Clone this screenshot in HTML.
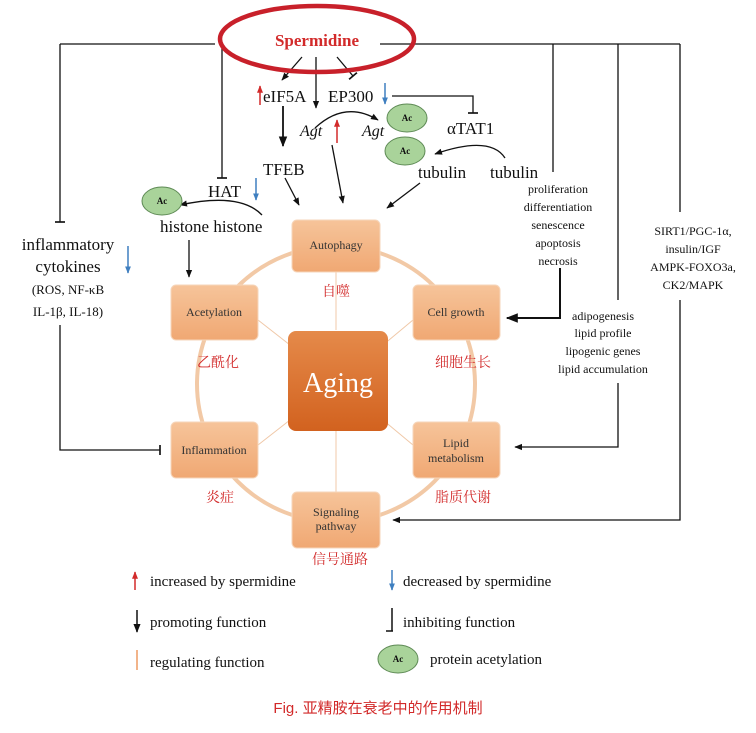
<!DOCTYPE html>
<html><head><meta charset="utf-8"><style>
body{margin:0;background:#fff;width:756px;height:728px;overflow:hidden}
svg text{font-family:"Liberation Serif","Noto Serif CJK SC",serif}
.cn{font-family:"Liberation Sans","Noto Sans CJK SC",sans-serif;fill:#d22a2a}
</style></head><body>
<svg width="756" height="728" viewBox="0 0 756 728" xmlns="http://www.w3.org/2000/svg">
<defs>
<marker id="a" viewBox="0 0 10 10" refX="9" refY="5" markerWidth="6" markerHeight="6" orient="auto"><path d="M0,1L10,5L0,9z" fill="#111"/></marker>
<marker id="t" viewBox="0 0 10 10" refX="5" refY="5" markerWidth="8" markerHeight="8" orient="auto"><path d="M5,0V10" stroke="#111" stroke-width="1.6"/></marker>
<marker id="ar" viewBox="0 0 10 10" refX="9" refY="5" markerWidth="5" markerHeight="5" orient="auto"><path d="M0,1L10,5L0,9z" fill="#d22a2a"/></marker>
<marker id="ab" viewBox="0 0 10 10" refX="9" refY="5" markerWidth="5" markerHeight="5" orient="auto"><path d="M0,1L10,5L0,9z" fill="#3f7fc0"/></marker>
<linearGradient id="g" x1="0" y1="0" x2="0" y2="1"><stop offset="0" stop-color="#f6c49a"/><stop offset="1" stop-color="#f0a873"/></linearGradient>
<linearGradient id="g2" x1="0" y1="0" x2="0" y2="1"><stop offset="0" stop-color="#e58a4a"/><stop offset="1" stop-color="#d2621f"/></linearGradient>
</defs>
<g stroke="#111" stroke-width="1.3" fill="none">
<path d="M60,44H215M380,44H680"/>
<path d="M60,44V222" marker-end="url(#t)"/>
<path d="M222,44V178" marker-end="url(#t)"/>
<path d="M553,44V172"/>
<path d="M618,44V300M618,383V447H515" marker-end="url(#a)"/>
<path d="M680,44V212M680,300V520H393" marker-end="url(#a)"/>
<path d="M560,268V318H507" marker-end="url(#a)" stroke-width="2"/>
<path d="M60,325V450H160" marker-end="url(#t)"/>
<path d="M302,57L282,80" marker-end="url(#a)"/>
<path d="M316,57V108" marker-end="url(#a)"/>
<path d="M337,57L353,76" marker-end="url(#t)"/>
<path d="M283,106V146" marker-end="url(#a)" stroke-width="1.8"/>
<path d="M392,96H473V113" marker-end="url(#t)"/>
<path d="M315,128Q345,100 378,120" marker-end="url(#a)"/>
<path d="M332,145L343,203" marker-end="url(#a)"/>
<path d="M285,178L299,205" marker-end="url(#a)"/>
<path d="M420,183L387,208" marker-end="url(#a)"/>
<path d="M505,158Q490,135 435,154" marker-end="url(#a)"/>
<path d="M262,215Q240,192 180,205" marker-end="url(#a)"/>
<path d="M189,240V277" marker-end="url(#a)"/>
</g>
<line x1="260" y1="105" x2="260" y2="86" stroke="#d22a2a" stroke-width="1.5" marker-end="url(#ar)"/>
<line x1="337" y1="143" x2="337" y2="120" stroke="#d22a2a" stroke-width="1.5" marker-end="url(#ar)"/>
<line x1="385" y1="83" x2="385" y2="104" stroke="#3f7fc0" stroke-width="1.5" marker-end="url(#ab)"/>
<line x1="256" y1="178" x2="256" y2="200" stroke="#3f7fc0" stroke-width="1.5" marker-end="url(#ab)"/>
<line x1="128" y1="246" x2="128" y2="273" stroke="#3f7fc0" stroke-width="1.5" marker-end="url(#ab)"/>
<ellipse cx="317" cy="39" rx="97" ry="33" fill="none" stroke="#c8202a" stroke-width="4.5"/>
<text x="317" y="46" text-anchor="middle" font-size="17" font-weight="bold" fill="#d22a2a">Spermidine</text>
<g font-size="17" fill="#111">
<text x="263" y="102">eIF5A</text>
<text x="328" y="102">EP300</text>
<text x="300" y="136" font-style="italic" font-size="16">Agt</text>
<text x="362" y="136" font-style="italic" font-size="16">Agt</text>
<text x="447" y="134">αTAT1</text>
<text x="263" y="175">TFEB</text>
<text x="418" y="178">tubulin</text>
<text x="490" y="178">tubulin</text>
<text x="208" y="197">HAT</text>
<text x="160" y="232">histone histone</text>
<text x="68" y="250" text-anchor="middle">inflammatory</text>
<text x="68" y="272" text-anchor="middle">cytokines</text>
</g>
<g font-size="13" fill="#111" text-anchor="middle">
<text x="68" y="294">(ROS, NF-κB</text>
<text x="68" y="316">IL-1β, IL-18)</text>
<text x="558" y="193" font-size="12">proliferation</text>
<text x="558" y="211" font-size="12">differentiation</text>
<text x="558" y="229" font-size="12">senescence</text>
<text x="558" y="247" font-size="12">apoptosis</text>
<text x="558" y="265" font-size="12">necrosis</text>
<text x="603" y="320" font-size="12">adipogenesis</text>
<text x="603" y="337" font-size="12">lipid profile</text>
<text x="603" y="355" font-size="12">lipogenic genes</text>
<text x="603" y="373" font-size="12">lipid accumulation</text>
<text x="693" y="235" font-size="12">SIRT1/PGC-1α,</text>
<text x="693" y="253" font-size="12">insulin/IGF</text>
<text x="693" y="271" font-size="12">AMPK-FOXO3a,</text>
<text x="693" y="289" font-size="12">CK2/MAPK</text>
</g>
<g fill="#a9d39a" stroke="#5e8a55" stroke-width="1">
<ellipse cx="407" cy="118" rx="20" ry="14"/><ellipse cx="405" cy="151" rx="20" ry="14"/><ellipse cx="162" cy="201" rx="20" ry="14"/>
<ellipse cx="398" cy="659" rx="20" ry="14"/>
</g>
<g font-size="9" font-weight="bold" text-anchor="middle" fill="#111">
<text x="407" y="121">Ac</text><text x="405" y="154">Ac</text><text x="162" y="204">Ac</text><text x="398" y="662">Ac</text>
</g>
<ellipse cx="336" cy="384" rx="139" ry="138" fill="none" stroke="#f2c9a6" stroke-width="4"/>
<g stroke="#f0c8a8" stroke-width="1"><path d="M336,272V330M336,430V492M258,320L290,345M413,320L383,345M258,445L290,420M413,445L383,420"/></g>
<g fill="url(#g)" stroke="#f6d6bb" stroke-width="1">
<rect x="292" y="220" width="88" height="52" rx="5"/>
<rect x="171" y="285" width="87" height="55" rx="5"/>
<rect x="413" y="285" width="87" height="55" rx="5"/>
<rect x="171" y="422" width="87" height="56" rx="5"/>
<rect x="413" y="422" width="87" height="56" rx="5"/>
<rect x="292" y="492" width="88" height="56" rx="5"/>
</g>
<rect x="288" y="331" width="100" height="100" rx="8" fill="url(#g2)"/>
<text x="338" y="392" text-anchor="middle" font-size="28" fill="#fff">Aging</text>
<g font-size="12" fill="#333" text-anchor="middle">
<text x="336" y="249">Autophagy</text>
<text x="214" y="316">Acetylation</text>
<text x="456" y="316">Cell growth</text>
<text x="214" y="454">Inflammation</text>
<text x="456" y="447">Lipid</text><text x="456" y="462">metabolism</text>
<text x="336" y="516">Signaling</text><text x="336" y="530">pathway</text>
</g>
<g class="cn" font-size="14" text-anchor="middle">
<text x="336" y="296">自噬</text>
<text x="218" y="367">乙酰化</text>
<text x="463" y="367">细胞生长</text>
<text x="220" y="502">炎症</text>
<text x="463" y="502">脂质代谢</text>
<text x="340" y="564">信号通路</text>
</g>
<line x1="135" y1="590" x2="135" y2="572" stroke="#d22a2a" stroke-width="1.5" marker-end="url(#ar)"/>
<line x1="392" y1="570" x2="392" y2="590" stroke="#3f7fc0" stroke-width="1.5" marker-end="url(#ab)"/>
<line x1="137" y1="610" x2="137" y2="632" stroke="#111" stroke-width="1.5" marker-end="url(#a)"/>
<path d="M392,608V631M386,631H393" stroke="#111" stroke-width="1.5" fill="none"/>
<line x1="137" y1="650" x2="137" y2="670" stroke="#f2b48a" stroke-width="2"/>
<g font-size="15" fill="#111">
<text x="150" y="586">increased by spermidine</text>
<text x="403" y="586">decreased by spermidine</text>
<text x="150" y="627">promoting function</text>
<text x="403" y="627">inhibiting function</text>
<text x="150" y="667">regulating function</text>
<text x="430" y="664">protein acetylation</text>
</g>
<text x="378" y="713" text-anchor="middle" font-size="15" class="cn">Fig. 亚精胺在衰老中的作用机制</text>
</svg>
</body></html>
